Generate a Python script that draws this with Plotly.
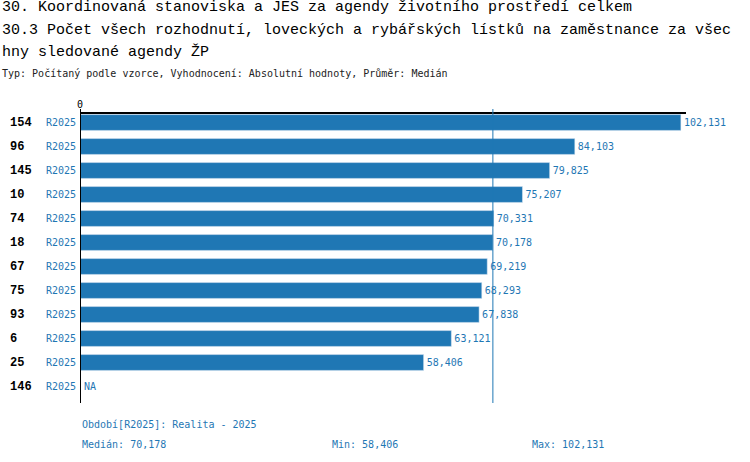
import plotly.graph_objects as go
import numpy as np

# data
ids = ["154", "96", "145", "10", "74", "18", "67", "75", "93", "6", "25", "146"]
values = [102131, 84103, 79825, 75207, 70331, 70178, 69219, 68293, 67838, 63121, 58406, None]
period = "R2025"
period_desc = "Realita - 2025"

title_lines = [
    "30. Koordinovaná stanoviska a JES za agendy životního prostředí celkem",
    "30.3 Počet všech rozhodnutí, loveckých a rybářských lístků na zaměstnance za všec",
    "hny sledované agendy ŽP",
]
subtitle = "Typ: Počítaný podle vzorce, Vyhodnocení: Absolutní hodnoty, Průměr: Medián"

blue = "#1f77b4"
mono_big = "Liberation Mono"
mono = "DejaVu Sans Mono"

rows = list(range(len(ids)))
known = [v for v in values if v is not None]
median = float(np.median(known))
vmin, vmax = min(known), max(known)

def fmt(v):
    return f"{int(v):,}"

fig = go.Figure()
fig.add_trace(go.Bar(
    x=[v if v is not None else 0 for v in values],
    y=rows,
    orientation="h",
    marker_color=blue,
    width=0.66,
    text=[fmt(v) if v is not None else "" for v in values],
    textposition="outside",
    textfont=dict(family=mono, size=10, color=blue),
    cliponaxis=False,
    hoverinfo="skip",
))

ann = []
# title and subtitle
for line, ypx in zip(title_lines, [8, 30, 52]):
    ann.append(dict(text=line, x=-80 / 606, y=(403 - ypx) / 289, xref="paper", yref="paper",
                    xanchor="left", yanchor="middle", showarrow=False,
                    font=dict(family=mono_big, size=15, color="black")))
ann.append(dict(text=subtitle, x=-80 / 606, y=(403 - 73) / 289, xref="paper", yref="paper",
                xanchor="left", yanchor="middle", showarrow=False,
                font=dict(family=mono, size=10, color="#222222")))

# row labels
for r, i in zip(rows, ids):
    ann.append(dict(text="<b>" + i + "</b>", x=-72 / 606, y=r, xref="paper", yref="y",
                    xanchor="left", yanchor="middle", showarrow=False,
                    font=dict(family=mono_big, size=12, color="black")))
    ann.append(dict(text=period, x=-2 / 606, y=r, xref="paper", yref="y",
                    xanchor="right", yanchor="middle", showarrow=False,
                    font=dict(family=mono, size=10, color=blue)))

# NA labels
for r, v in zip(rows, values):
    if v is None:
        ann.append(dict(text="NA", x=0, y=r, xref="x", yref="y", xshift=2,
                        xanchor="left", yanchor="middle", showarrow=False,
                        font=dict(family=mono, size=10, color=blue)))

# footer
ann.append(dict(text=f"Období[{period}]: {period_desc}", x=0, y=(403 - 424) / 289,
                xref="paper", yref="paper", xanchor="left", yanchor="middle", showarrow=False,
                font=dict(family=mono, size=10, color=blue)))
for label, val, xp in [("Medián", median, 0), ("Min", vmin, 250 / 606), ("Max", vmax, 450 / 606)]:
    ann.append(dict(text=f"{label}: {fmt(val)}", x=xp, y=(403 - 444) / 289,
                    xref="paper", yref="paper", xanchor="left", yanchor="middle", showarrow=False,
                    font=dict(family=mono, size=10, color=blue)))

shapes = [
    # median line
    dict(type="line", x0=median, x1=median, xref="x", y0=0, y1=1 + 5 / 289, yref="paper",
         line=dict(color=blue, width=1)),
    # zero line
    dict(type="line", x0=0, x1=0, xref="x", y0=0, y1=1 + 5 / 289, yref="paper",
         line=dict(color="black", width=2)),
]

fig.update_layout(
    width=750, height=462,
    margin=dict(l=80, r=64, t=114, b=59),
    plot_bgcolor="white", paper_bgcolor="white",
    showlegend=False,
    bargap=0.34,
    annotations=ann,
    shapes=shapes,
    xaxis=dict(range=[0, 103000], side="top", showgrid=False, zeroline=False,
               showline=True, linecolor="black", linewidth=1.5,
               tickvals=[0], ticktext=["0"], ticks="",
               tickfont=dict(family=mono, size=10, color="black")),
    yaxis=dict(range=[11.6875, -0.354], showgrid=False, zeroline=False,
               showticklabels=False, showline=False),
)

# page without the default body margin so the chart sits at the window corner
fig.write_html("out.html", config={"displayModeBar": False},
               post_script="document.body.style.margin='0';")
